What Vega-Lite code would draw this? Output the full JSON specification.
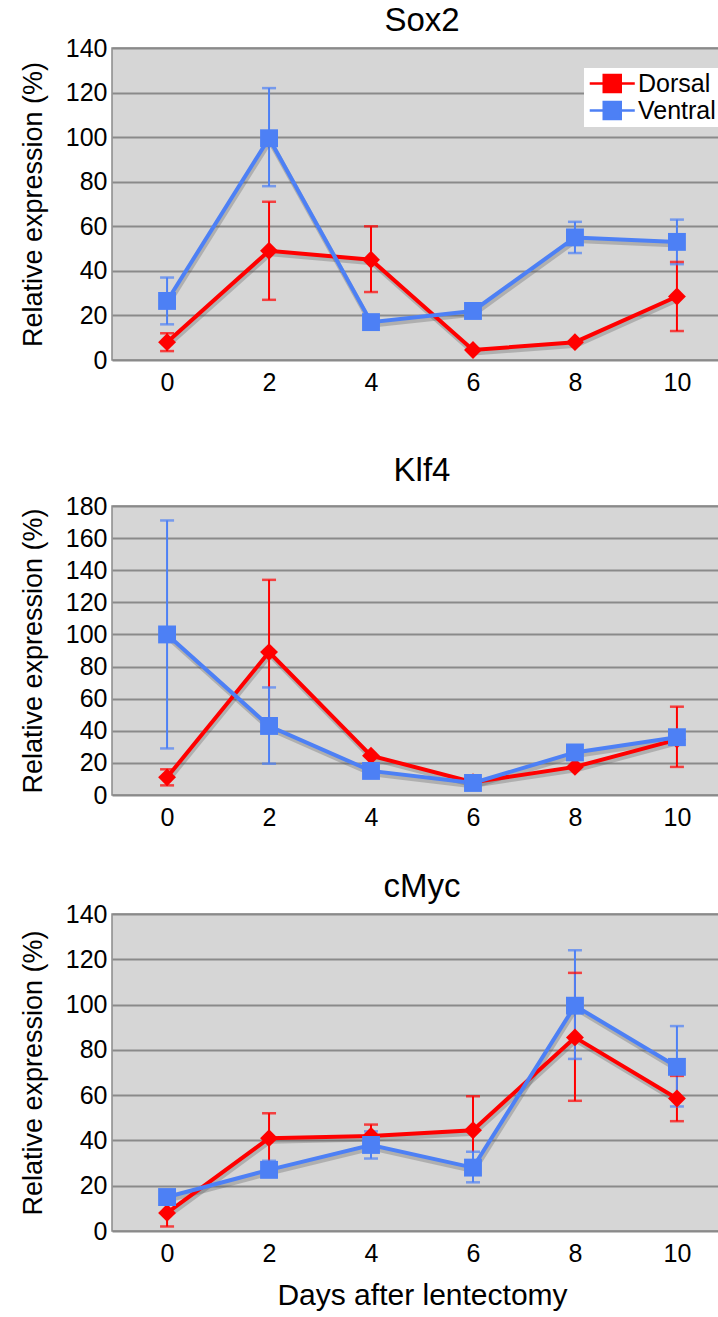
{
  "$schema": "https://vega.github.io/schema/vega-lite/v6.json",
  "background": "white",
  "padding": {"left": 18, "top": 4, "right": 0, "bottom": 0},
  "spacing": 58,
  "resolve": {"legend": {"color": "independent"}},
  "datasets": {
    "expr": [
      {"g": "Sox2", "s": "Dorsal", "d": 0, "v": 8, "lo": 4, "hi": 12},
      {"g": "Sox2", "s": "Dorsal", "d": 2, "v": 49, "lo": 27, "hi": 71},
      {"g": "Sox2", "s": "Dorsal", "d": 4, "v": 45, "lo": 30.5, "hi": 60},
      {"g": "Sox2", "s": "Dorsal", "d": 6, "v": 4.5, "lo": null, "hi": null},
      {"g": "Sox2", "s": "Dorsal", "d": 8, "v": 8, "lo": null, "hi": null},
      {"g": "Sox2", "s": "Dorsal", "d": 10, "v": 28.5, "lo": 13, "hi": 44},
      {"g": "Sox2", "s": "Ventral", "d": 0, "v": 26.5, "lo": 16, "hi": 37},
      {"g": "Sox2", "s": "Ventral", "d": 2, "v": 99.5, "lo": 78, "hi": 122},
      {"g": "Sox2", "s": "Ventral", "d": 4, "v": 17, "lo": 15, "hi": 19},
      {"g": "Sox2", "s": "Ventral", "d": 6, "v": 22, "lo": null, "hi": null},
      {"g": "Sox2", "s": "Ventral", "d": 8, "v": 55, "lo": 48, "hi": 62},
      {"g": "Sox2", "s": "Ventral", "d": 10, "v": 53, "lo": 43, "hi": 63},
      {"g": "Klf4", "s": "Dorsal", "d": 0, "v": 11, "lo": 6, "hi": 16},
      {"g": "Klf4", "s": "Dorsal", "d": 2, "v": 89, "lo": 44, "hi": 134},
      {"g": "Klf4", "s": "Dorsal", "d": 4, "v": 24.5, "lo": null, "hi": null},
      {"g": "Klf4", "s": "Dorsal", "d": 6, "v": 8, "lo": null, "hi": null},
      {"g": "Klf4", "s": "Dorsal", "d": 8, "v": 17.5, "lo": null, "hi": null},
      {"g": "Klf4", "s": "Dorsal", "d": 10, "v": 34.5, "lo": 17.5, "hi": 55},
      {"g": "Klf4", "s": "Ventral", "d": 0, "v": 100, "lo": 29, "hi": 171},
      {"g": "Klf4", "s": "Ventral", "d": 2, "v": 43, "lo": 19.5, "hi": 67},
      {"g": "Klf4", "s": "Ventral", "d": 4, "v": 15, "lo": null, "hi": null},
      {"g": "Klf4", "s": "Ventral", "d": 6, "v": 7.5, "lo": null, "hi": null},
      {"g": "Klf4", "s": "Ventral", "d": 8, "v": 26.5, "lo": null, "hi": null},
      {"g": "Klf4", "s": "Ventral", "d": 10, "v": 36, "lo": null, "hi": null},
      {"g": "cMyc", "s": "Dorsal", "d": 0, "v": 8, "lo": 2, "hi": 13},
      {"g": "cMyc", "s": "Dorsal", "d": 2, "v": 41, "lo": 30, "hi": 52},
      {"g": "cMyc", "s": "Dorsal", "d": 4, "v": 42, "lo": 37, "hi": 47},
      {"g": "cMyc", "s": "Dorsal", "d": 6, "v": 44.5, "lo": 29, "hi": 59.5},
      {"g": "cMyc", "s": "Dorsal", "d": 8, "v": 85.5, "lo": 57.5, "hi": 114},
      {"g": "cMyc", "s": "Dorsal", "d": 10, "v": 58.5, "lo": 48.5, "hi": 68.5},
      {"g": "cMyc", "s": "Ventral", "d": 0, "v": 15, "lo": null, "hi": null},
      {"g": "cMyc", "s": "Ventral", "d": 2, "v": 27, "lo": 24, "hi": 31},
      {"g": "cMyc", "s": "Ventral", "d": 4, "v": 38, "lo": 32, "hi": 44},
      {"g": "cMyc", "s": "Ventral", "d": 6, "v": 28, "lo": 21.5, "hi": 35},
      {"g": "cMyc", "s": "Ventral", "d": 8, "v": 99.5, "lo": 76, "hi": 124},
      {"g": "cMyc", "s": "Ventral", "d": 10, "v": 72.5, "lo": 55, "hi": 90.5}
    ]
  },
  "vconcat": [
    {
      "title": {"text": "Sox2", "offset": -2},
      "width": 620,
      "height": 312,
      "data": {"name": "expr"},
      "transform": [{"filter": "datum.g === 'Sox2'"}],
      "encoding": {
        "x": {"field": "d", "type": "ordinal", "scale": {"type": "point", "padding": 0.54}, "axis": {"title": null}},
        "y": {"field": "v", "type": "quantitative", "scale": {"domain": [0, 140], "nice": false}, "axis": {"values": [0, 20, 40, 60, 80, 100, 120, 140], "title": "Relative expression (%)"}},
        "color": {"field": "s", "type": "nominal", "scale": {"domain": ["Dorsal", "Ventral"], "range": ["#ff0000", "#4d80f5"]}, "legend": {
            "title": null, "orient": "none", "legendX": 472, "legendY": 20,
            "fillColor": "white", "padding": 3, "symbolType": "M-1.15,0H0.5M2.5,0H4.15M0.5,-1H2.5V1H0.5Z",
            "symbolSize": 289, "symbolStrokeWidth": 2.5, "symbolOpacity": 1, "labelOffset": 26, "labelFontSize": 25, "rowPadding": 0, "labelColor": "black"
          }}
      },
      "layer": [
        {"mark": {"type": "rule", "strokeWidth": 2}, "encoding": {"y": {"field": "lo", "type": "quantitative"}, "y2": {"field": "hi"}}},
        {"mark": {"type": "tick", "thickness": 2.5, "size": 14, "orient": "horizontal"}, "encoding": {"y": {"field": "lo", "type": "quantitative"}}},
        {"mark": {"type": "tick", "thickness": 2.5, "size": 14, "orient": "horizontal"}, "encoding": {"y": {"field": "hi", "type": "quantitative"}}},
        {"mark": {"type": "line", "strokeWidth": 5, "yOffset": 3, "xOffset": 1, "opacity": 0.3}, "encoding": {"color": {"value": "#555555"}, "detail": {"field": "s"}}},
        {"mark": {"type": "line", "strokeWidth": 4}, "encoding": {}},
        {"mark": {"type": "point", "filled": true, "opacity": 1, "size": 320}, "encoding": {
          "shape": {"field": "s", "type": "nominal", "scale": {"domain": ["Dorsal", "Ventral"], "range": ["diamond", "square"]}, "legend": null}
        }}
      ]
    },
    {
      "spacing": 39,
      "vconcat": [
        {
          "title": {"text": "Klf4", "offset": 6},
          "width": 620,
          "height": 289,
          "data": {"name": "expr"},
          "transform": [{"filter": "datum.g === 'Klf4'"}],
          "encoding": {
            "x": {"field": "d", "type": "ordinal", "scale": {"type": "point", "padding": 0.54}, "axis": {"title": null}},
            "y": {"field": "v", "type": "quantitative", "scale": {"domain": [0, 180], "nice": false}, "axis": {"values": [0, 20, 40, 60, 80, 100, 120, 140, 160, 180], "title": "Relative expression (%)"}},
            "color": {"field": "s", "type": "nominal", "scale": {"domain": ["Dorsal", "Ventral"], "range": ["#ff0000", "#4d80f5"]}, "legend": null}
          },
          "layer": [
            {"mark": {"type": "rule", "strokeWidth": 2}, "encoding": {"y": {"field": "lo", "type": "quantitative"}, "y2": {"field": "hi"}}},
            {"mark": {"type": "tick", "thickness": 2.5, "size": 14, "orient": "horizontal"}, "encoding": {"y": {"field": "lo", "type": "quantitative"}}},
            {"mark": {"type": "tick", "thickness": 2.5, "size": 14, "orient": "horizontal"}, "encoding": {"y": {"field": "hi", "type": "quantitative"}}},
            {"mark": {"type": "line", "strokeWidth": 5, "yOffset": 3, "xOffset": 1, "opacity": 0.3}, "encoding": {"color": {"value": "#555555"}, "detail": {"field": "s"}}},
            {"mark": {"type": "line", "strokeWidth": 4}, "encoding": {}},
            {"mark": {"type": "point", "filled": true, "opacity": 1, "size": 320}, "encoding": {
              "shape": {"field": "s", "type": "nominal", "scale": {"domain": ["Dorsal", "Ventral"], "range": ["diamond", "square"]}, "legend": null}
            }}
          ]
        },
        {
          "title": {"text": "cMyc", "offset": -2},
          "width": 620,
          "height": 317,
          "data": {"name": "expr"},
          "transform": [{"filter": "datum.g === 'cMyc'"}],
          "encoding": {
            "x": {"field": "d", "type": "ordinal", "scale": {"type": "point", "padding": 0.54}, "axis": {"title": "Days after lentectomy"}},
            "y": {"field": "v", "type": "quantitative", "scale": {"domain": [0, 140], "nice": false}, "axis": {"values": [0, 20, 40, 60, 80, 100, 120, 140], "title": "Relative expression (%)"}},
            "color": {"field": "s", "type": "nominal", "scale": {"domain": ["Dorsal", "Ventral"], "range": ["#ff0000", "#4d80f5"]}, "legend": null}
          },
          "layer": [
            {"mark": {"type": "rule", "strokeWidth": 2}, "encoding": {"y": {"field": "lo", "type": "quantitative"}, "y2": {"field": "hi"}}},
            {"mark": {"type": "tick", "thickness": 2.5, "size": 14, "orient": "horizontal"}, "encoding": {"y": {"field": "lo", "type": "quantitative"}}},
            {"mark": {"type": "tick", "thickness": 2.5, "size": 14, "orient": "horizontal"}, "encoding": {"y": {"field": "hi", "type": "quantitative"}}},
            {"mark": {"type": "line", "strokeWidth": 5, "yOffset": 3, "xOffset": 1, "opacity": 0.3}, "encoding": {"color": {"value": "#555555"}, "detail": {"field": "s"}}},
            {"mark": {"type": "line", "strokeWidth": 4}, "encoding": {}},
            {"mark": {"type": "point", "filled": true, "opacity": 1, "size": 320}, "encoding": {
              "shape": {"field": "s", "type": "nominal", "scale": {"domain": ["Dorsal", "Ventral"], "range": ["diamond", "square"]}, "legend": null}
            }}
          ]
        }
      ]
    }
  ],
  "config": {
    "font": "Liberation Sans",
    "view": {"fill": "#d6d6d6", "stroke": "#8a8a8a", "strokeWidth": 1.5},
    "title": {"fontSize": 33, "fontWeight": "normal", "color": "black", "anchor": "middle", "font": "Liberation Sans"},
    "axis": {
      "domain": false, "ticks": false, "grid": false,
      "labelFont": "Liberation Sans", "titleFont": "Liberation Sans",
      "labelFontSize": 25, "labelColor": "black", "titleFontSize": 27, "titleFontWeight": "normal", "titleColor": "black"
    },
    "axisX": {"labelAngle": 0, "labelPadding": 10, "titlePadding": 14, "titleFontSize": 30},
    "axisY": {"grid": true, "gridColor": "#8a8a8a", "gridWidth": 2, "labelPadding": 5, "titlePadding": 18},
    "legend": {"labelFont": "Liberation Sans"}
  }
}
